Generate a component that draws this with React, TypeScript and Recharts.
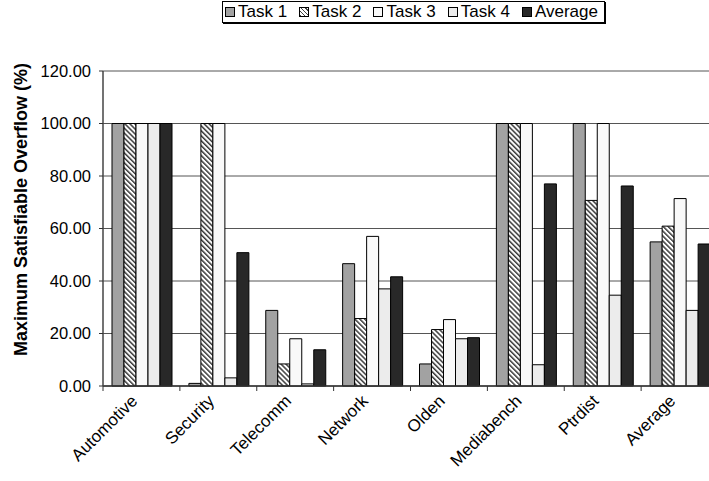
import { BarChart, Bar, XAxis, YAxis, CartesianGrid, Legend } from "recharts";

const categories = ["Automotive", "Security", "Telecomm", "Network", "Olden", "Mediabench", "Ptrdist", "Average"];
const task1 = [100, 1.0, 28.8, 46.6, 8.4, 100, 100, 54.9];
const task2 = [100, 100, 8.4, 25.7, 21.5, 100, 70.7, 60.9];
const task3 = [100, 100, 18.0, 57.0, 25.3, 100, 100, 71.4];
const task4 = [100, 3.1, 0.8, 37.0, 18.0, 8.1, 34.6, 28.8];
const average = [100, 50.8, 13.8, 41.6, 18.4, 77.0, 76.2, 54.1];
const yTicks = [0, 20, 40, 60, 80, 100, 120];

const data = categories.map((name, i) => ({
  name,
  "Task 1": task1[i],
  "Task 2": task2[i],
  "Task 3": task3[i],
  "Task 4": task4[i],
  Average: average[i],
}));

const FONT = "'Liberation Sans', Arial, sans-serif";
const CHART_W = 730;
const CHART_H = 481;
const LEFT = 103;
const RIGHT = 12;
const HALF_BAND = (CHART_W - LEFT - RIGHT) / categories.length / 2;

const series = [
  { key: "Task 1", fill: "#a2a2a2", swatch: "#a2a2a2" },
  { key: "Task 2", fill: "url(#hatch)", swatch: "repeating-linear-gradient(45deg, #444 0 1px, #fff 1px 3px)" },
  { key: "Task 3", fill: "#f9f9f9", swatch: "#f9f9f9" },
  { key: "Task 4", fill: "#ececec", swatch: "#ececec" },
  { key: "Average", fill: "#282828", swatch: "#282828" },
];

function CategoryTick(props: any) {
  const { x, y, payload } = props;
  const tx = x - 3;
  const ty = y + 16;
  return (
    <g>
      <line x1={x - HALF_BAND} y1={y} x2={x - HALF_BAND} y2={y + 5} stroke="#333" strokeWidth={1} />
      <text
        x={tx}
        y={ty}
        textAnchor="end"
        transform={`rotate(-45, ${tx}, ${ty})`}
        fontSize={17}
        fontFamily={FONT}
        fill="#000"
      >
        {payload.value}
      </text>
    </g>
  );
}

function renderLegend() {
  return (
    <div
      style={{
        display: "flex",
        alignItems: "center",
        justifyContent: "space-between",
        boxSizing: "border-box",
        height: 22,
        padding: "0 6px 0 2px",
        border: "1px solid #000",
        boxShadow: "1px 1px 0 #000",
        background: "#fff",
        fontFamily: FONT,
        fontSize: 17,
        color: "#000",
      }}
    >
      {series.map((s) => (
        <div key={s.key} style={{ display: "flex", alignItems: "center" }}>
          <span
            style={{
              display: "inline-block",
              width: 10,
              height: 10,
              boxSizing: "border-box",
              border: "1px solid #000",
              background: s.swatch,
              marginRight: 3,
            }}
          />
          <span>{s.key}</span>
        </div>
      ))}
    </div>
  );
}

export default function App() {
  return (
    <div style={{ position: "absolute", left: 0, top: 0, width: 709, height: 481, overflow: "hidden", background: "#fff" }}>
      <BarChart
        width={CHART_W}
        height={CHART_H}
        data={data}
        margin={{ top: 49, right: RIGHT, bottom: 0, left: 0 }}
        barCategoryGap={9}
        barGap={0}
      >
        <defs>
          <pattern id="hatch" width="3.5" height="3.5" patternUnits="userSpaceOnUse" patternTransform="rotate(-45)">
            <rect width="3.5" height="3.5" fill="#fff" />
            <line x1="0.75" y1="0" x2="0.75" y2="3.5" stroke="#3a3a3a" strokeWidth="1.5" />
          </pattern>
        </defs>
        <CartesianGrid horizontal vertical={false} stroke="#555" />
        <XAxis
          dataKey="name"
          height={95}
          axisLine={{ stroke: "#333", strokeWidth: 1.5 }}
          tickLine={false}
          tickSize={0}
          tickMargin={0}
          interval={0}
          tick={<CategoryTick />}
        />
        <YAxis
          width={LEFT}
          domain={[0, 120]}
          ticks={yTicks}
          interval={0}
          tickFormatter={(v: number) => v.toFixed(2)}
          axisLine={{ stroke: "#444", strokeWidth: 1.5 }}
          tickLine={{ stroke: "#333" }}
          tickSize={4}
          tickMargin={8}
          tick={{ fontSize: 16.5, fontFamily: FONT, fill: "#000" }}
          label={{
            value: "Maximum Satisfiable Overflow (%)",
            angle: -90,
            position: "center",
            dx: -31,
            dy: -19,
            style: { fontSize: 18, fontWeight: "bold", fontFamily: FONT, fill: "#000" },
          }}
        />
        <Legend
          layout="vertical"
          align="center"
          verticalAlign="top"
          content={renderLegend}
          wrapperStyle={{ left: 222, top: 1, width: 383 }}
        />
        {series.map((s) => (
          <Bar key={s.key} dataKey={s.key} fill={s.fill} stroke="#000" strokeWidth={1} isAnimationActive={false} />
        ))}
      </BarChart>
    </div>
  );
}
